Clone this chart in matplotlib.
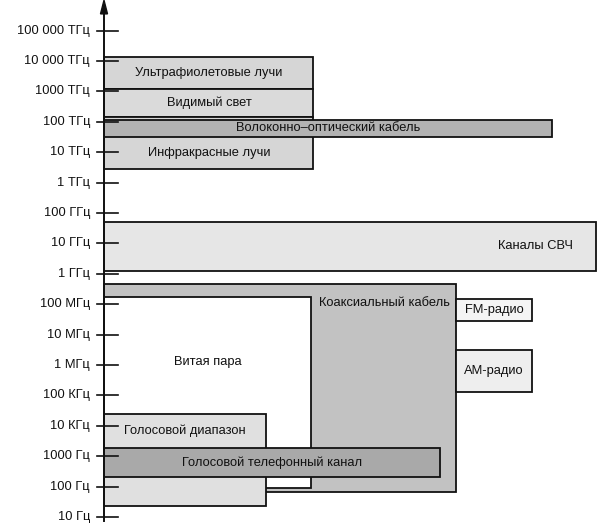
import matplotlib
matplotlib.use("Agg")
import matplotlib.pyplot as plt
from matplotlib.patches import Rectangle, Polygon

plt.rcParams['font.family'] = ['Liberation Sans', 'DejaVu Sans']

# ---- data ----
tick_freqs = [1e1, 1e2, 1e3, 1e4, 1e5, 1e6, 1e7, 1e8, 1e9, 1e10, 1e11, 1e12,
              1e13, 1e14, 1e15, 1e16, 1e17]
tick_labels = ["10 Гц", "100 Гц", "1000 Гц", "10 КГц", "100 КГц", "1 МГц",
               "10 МГц", "100 МГц", "1 ГГц", "10 ГГц", "100 ГГц", "1 ТГц",
               "10 ТГц", "100 ТГц", "1000 ТГц", "10 000 ТГц", "100 000 ТГц"]

band_names = ["Ультрафиолетовые лучи", "Видимый свет", "Инфракрасные лучи",
              "Волоконно–оптический кабель", "Каналы СВЧ", "Коаксиальный кабель",
              "Витая пара", "FM-радио", "АМ-радио", "Голосовой диапазон",
              "Голосовой телефонный канал"]
band_low = [1.23e15, 1.48e14, 2.9e12, 3.2e13, 1.2e9, 68, 89, 2.8e7, 1.26e5, 23, 209]
band_high = [1.38e16, 1.23e15, 1.48e14, 1.17e14, 5.2e10, 4.7e8, 1.74e8, 1.5e8,
             3.2e6, 2.45e4, 1.86e3]

# ---- layout (horizontal extents, label anchors, fills) ----
x_left = [104, 104, 104, 104, 104, 104, 104, 456, 456, 104, 104]
x_right = [313, 313, 313, 552, 596, 456, 311, 532, 532, 266, 440]
label_x = [209, 209, 209, 328, 535, 384, 208, 494, 494, 185, 272]
label_y = [4.1e15, 4.3e14, 9.6e12, 6.2e13, 8e9, 1.1e8, 1.26e6, 6.5e7, 6.3e5, 6.8e3, 6.2e2]
fills = ["#d6d6d6", "#dadada", "#d6d6d6", "#b2b2b2", "#e6e6e6", "#c2c2c2",
         "#ffffff", "#f4f4f4", "#eeeeee", "#e0e0e0", "#a9a9a9"]

W, H = 606, 526
fig = plt.figure(figsize=(W / 100, H / 100), dpi=100)
ax = fig.add_axes([0, 0, 1, 1])
ax.set_yscale('log')
ax.set_xlim(0, W)
ax.set_ylim(10 ** 0.704, 10 ** 18.007)
ax.axis('off')

for i, name in enumerate(band_names):
    r = Rectangle((x_left[i], band_low[i]), x_right[i] - x_left[i],
                  band_high[i] - band_low[i], facecolor=fills[i],
                  edgecolor='#111111', linewidth=1.3, zorder=2 + i * 0.1)
    ax.add_patch(r)
    ax.text(label_x[i], label_y[i], name, ha='center', va='center',
            fontsize=9.3, color='#111111', zorder=5)

# vertical axis with arrow
ax.plot([104, 104], [10 ** 0.87, 10 ** 17.7], color='#111111', lw=1.4, zorder=6)
ax.add_patch(Polygon([[100.5, 10 ** 17.55], [107.5, 10 ** 17.55], [104, 10 ** 18.0]],
                     closed=True, color='#111111', zorder=6))

for f, lab in zip(tick_freqs, tick_labels):
    ax.plot([97, 118], [f, f], color='#111111', lw=1.2, zorder=6)
    ax.text(90, f, lab, ha='right', va='center', fontsize=9.3, color='#111111')

fig.savefig("out.png", dpi=100)
